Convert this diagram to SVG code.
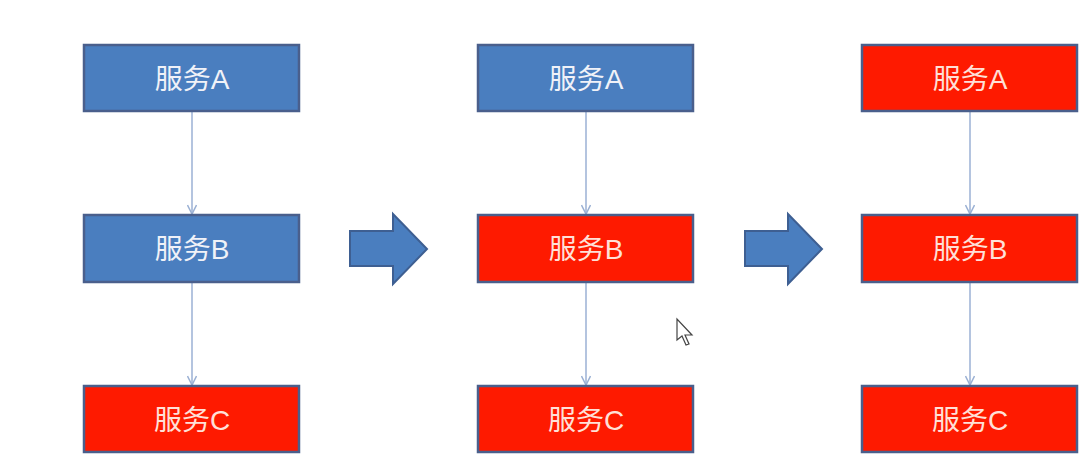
<svg xmlns="http://www.w3.org/2000/svg" width="1089" height="464" viewBox="0 0 1089 464">
<defs>
<style>
.box{stroke:#4a5f8c;stroke-width:2.5}
.blue{fill:#4a7ebf}
.red{fill:#fe1a00}
.lbl{font-family:"Liberation Sans","Noto Sans CJK SC",sans-serif;font-size:28px;fill:#f0f2f8;text-anchor:middle;dominant-baseline:central}
.red-t{fill:#ffe0d8}
.conn{stroke:#9bb1d4;stroke-width:1.5;fill:none}
.big{fill:#4a7ebf;stroke:#3e5f92;stroke-width:2}
</style>
<marker id="v" markerWidth="12" markerHeight="10" refX="10" refY="5" orient="auto" markerUnits="userSpaceOnUse">
<path d="M1,0.5 L10,5 L1,9.5" fill="none" stroke="#9bb1d4" stroke-width="1.5"/>
</marker>
</defs>
<rect width="1089" height="464" fill="#ffffff"/>
<g id="connectors">
<line class="conn" x1="192" y1="112" x2="192" y2="214" marker-end="url(#v)"/>
<line class="conn" x1="192" y1="283" x2="192" y2="385" marker-end="url(#v)"/>
<line class="conn" x1="586" y1="112" x2="586" y2="214" marker-end="url(#v)"/>
<line class="conn" x1="586" y1="283" x2="586" y2="385" marker-end="url(#v)"/>
<line class="conn" x1="970" y1="112" x2="970" y2="214" marker-end="url(#v)"/>
<line class="conn" x1="970" y1="283" x2="970" y2="385" marker-end="url(#v)"/>
</g>
<g id="arrow1"><polygon class="big" points="350,231 393,231 393,214 427,249 393,284 393,266 350,266"/></g>
<g id="arrow2"><polygon class="big" points="745,231 788,231 788,214 822,249 788,284 788,266 745,266"/></g>
<g id="c1a"><rect class="box blue" x="84" y="45" width="215" height="66"/><text class="lbl" x="192" y="79">服务A</text></g>
<g id="c1b"><rect class="box blue" x="84" y="215" width="215" height="67"/><text class="lbl" x="192" y="249">服务B</text></g>
<g id="c1c"><rect class="box red" x="84" y="386" width="215" height="66"/><text class="lbl red-t" x="192" y="420">服务C</text></g>
<g id="c2a"><rect class="box blue" x="478" y="45" width="215" height="66"/><text class="lbl" x="586" y="79">服务A</text></g>
<g id="c2b"><rect class="box red" x="478" y="215" width="215" height="67"/><text class="lbl red-t" x="586" y="249">服务B</text></g>
<g id="c2c"><rect class="box red" x="478" y="386" width="215" height="66"/><text class="lbl red-t" x="586" y="420">服务C</text></g>
<g id="c3a"><rect class="box red" x="862" y="45" width="215" height="66"/><text class="lbl red-t" x="970" y="79">服务A</text></g>
<g id="c3b"><rect class="box red" x="862" y="215" width="215" height="67"/><text class="lbl red-t" x="970" y="249">服务B</text></g>
<g id="c3c"><rect class="box red" x="862" y="386" width="215" height="66"/><text class="lbl red-t" x="970" y="420">服务C</text></g>
<polygon points="677,319 677,340 682,336 686,345 689,344 685,335 692,335" fill="#ffffff" stroke="#444" stroke-width="1.2"/>
</svg>
